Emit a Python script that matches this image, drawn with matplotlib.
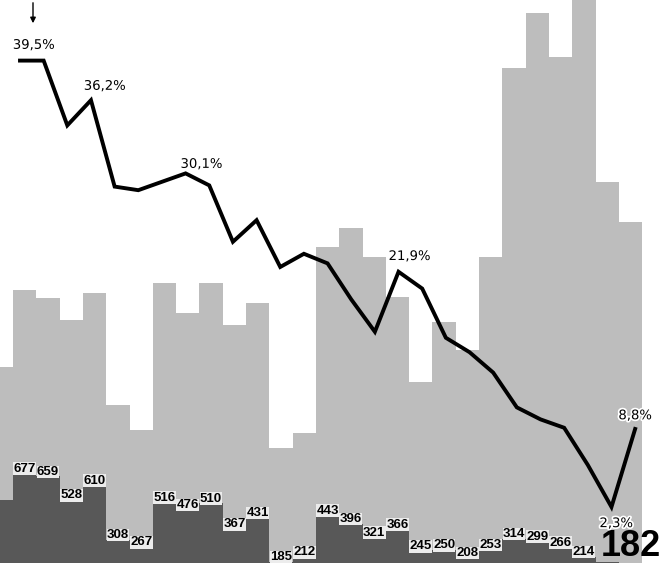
import numpy as np
import matplotlib
matplotlib.use("Agg")
import matplotlib.pyplot as plt
import matplotlib.patheffects as pe
from matplotlib.transforms import blended_transform_factory

# Hintergrund-Säulen (hell), Index -1 .. 26
light_vals = [1267, 1694, 1650, 1528, 1678, 1056, 917, 1733, 1567, 1733, 1500, 1622,
              817, 900, 1933, 2039, 1878, 1656, 1183, 1517, 1361, 1878, 2928, 3233,
              2989, 3400, 2294, 2072]
# dunkle Säulen, Index -1 .. 25 (erste ohne Beschriftung)
dark_vals = [530, 677, 659, 528, 610, 308, 267, 516, 476, 510, 367, 431, 185, 212,
             443, 396, 321, 366, 245, 250, 208, 253, 314, 299, 266, 214, 182]
# Linie in Prozent, 27 Punkte
line_vals = [39.5, 39.5, 34.1, 36.2, 29.0, 28.7, 29.4, 30.1, 29.1, 24.4, 26.2, 22.3,
             23.4, 22.6, 19.6, 16.9, 21.9, 20.5, 16.4, 15.2, 13.5, 10.6, 9.6, 8.9,
             5.8, 2.3, 8.8]
# beschriftete Punkte: index, text, offset (pt)
line_labels = [(0, "39,5%", (10, 11)), (3, "36,2%", (10, 10)), (7, "30,1%", (11.5, 6.5)),
               (16, "21,9%", (8, 11)), (26, "8,8%", (0, 9.5)), (25, "2,3%", (3.5, -12))]

LIGHT = "#bdbdbd"
DARK = "#585858"
lab_font = ["Liberation Sans", "DejaVu Sans"]

fig = plt.figure(figsize=(6.61, 5.63), dpi=100)
ax = fig.add_axes([0, 0, 1, 1])
ax.set_xlim(-0.558, 27.81)
ax.set_ylim(178, 3306)
ax.axis("off")

xl = np.arange(-1, len(light_vals) - 1)
ax.bar(xl, light_vals, width=1.0, align="edge", color=LIGHT, linewidth=0, zorder=1)
xd = np.arange(-1, len(dark_vals) - 1)
ax.bar(xd, dark_vals, width=1.0, align="edge", color=DARK, linewidth=0, zorder=2)

#Säulenbeschriftung
for k, v in zip(xd[1:-1], dark_vals[1:-1]):
    ax.text(k + 0.5, v - 8, str(v), ha="center", va="bottom", fontsize=9.5,
            fontweight="bold", family=lab_font, color="black", zorder=5,
            bbox=dict(facecolor="#ececec", edgecolor="none", pad=0.2))
tr = blended_transform_factory(ax.transData, ax.transAxes)
ax.text(26.5, 0.012, str(dark_vals[-1]), ha="center", va="baseline", fontsize=26,
        fontweight="bold", family=lab_font, color="black", zorder=5, transform=tr)

# Linie
ax2 = ax.twinx()
ax2.set_ylim(-2.37, 44.55)
ax2.axis("off")
xline = np.linspace(0.3, 26.7, len(line_vals))
ax2.plot(xline, line_vals, color="black", linewidth=2.8, solid_joinstyle="miter", zorder=6)

for i, txt, off in line_labels:
    ax2.annotate(txt, (xline[i], line_vals[i]), xytext=off, textcoords="offset points",
                 ha="center", va="center", fontsize=9.5, color="black", zorder=7,
                 path_effects=[pe.withStroke(linewidth=2.5, foreground="white")])

# Pfeil oben links
fig.patches.append(matplotlib.patches.FancyArrowPatch(
    (33 / 661, 1.0), (33 / 661, 1 - 26 / 563), transform=fig.transFigure,
    arrowstyle="-|>", mutation_scale=8, color="black", linewidth=1.0))

fig.savefig("out.png", dpi=100)
